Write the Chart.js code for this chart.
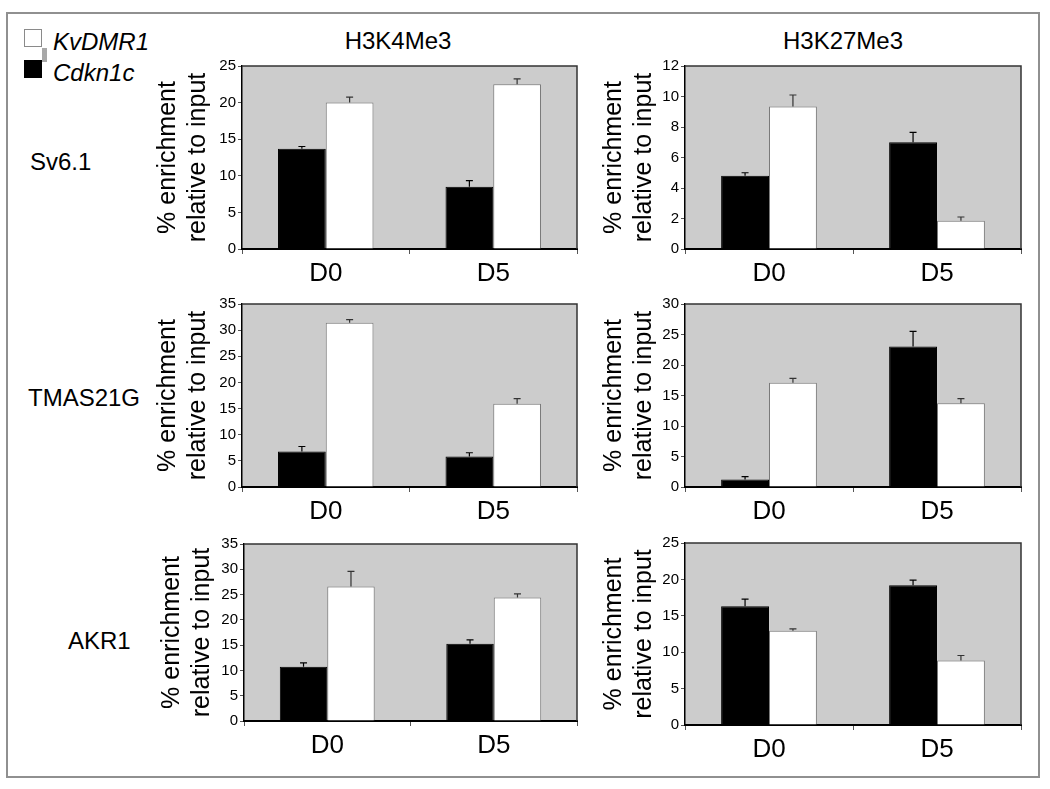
<!DOCTYPE html>
<html>
<head>
<meta charset="utf-8">
<script src="https://cdn.jsdelivr.net/npm/chart.js@4.4.1/dist/chart.umd.min.js"></script>
<style>
  body { margin: 0; background: #fff; font-family: "Liberation Sans", Arial, sans-serif; }
  #wrap { position: relative; width: 1050px; height: 789px; overflow: hidden; }
  #frame { position: absolute; left: 6px; top: 12px; width: 1034px; height: 766px; box-sizing: border-box; border: 2px solid #909090; }
  .lbl { position: absolute; font-size: 24px; line-height: 24px; color: #000; white-space: nowrap; }
  .hdr { transform: translateX(-50%); }
  .it { font-style: italic; }
  canvas { position: absolute; }
  .sq { position: absolute; box-sizing: border-box; }
</style>
</head>
<body>
<div id="wrap">
  <div id="frame"></div>

  <div class="sq" style="left:24px;top:29px;width:18px;height:18px;background:#fff;border:1px solid #8a8a8a;"></div>
  <div class="sq" style="left:42px;top:48px;width:5px;height:14px;background:#a8a8a8;"></div>
  <div class="sq" style="left:24px;top:60px;width:18px;height:18px;background:#000;"></div>
  <div class="lbl it" style="left:53px;top:30px;">KvDMR1</div>
  <div class="lbl it" style="left:53px;top:61px;">Cdkn1c</div>

  <div class="lbl hdr" style="left:398px;top:29px;">H3K4Me3</div>
  <div class="lbl hdr" style="left:843px;top:29px;">H3K27Me3</div>

  <div class="lbl" style="left:30px;top:150px;">Sv6.1</div>
  <div class="lbl" style="left:28px;top:386px;">TMAS21G</div>
  <div class="lbl" style="left:68px;top:629px;">AKR1</div>
</div>

<script>
const days = ['D0', 'D5'];

// Sv6.1
const sv_k4_cdkn = [13.7, 8.5];
const sv_k4_cdkn_err = [0.3, 0.85];
const sv_k4_kv = [20.0, 22.5];
const sv_k4_kv_err = [0.75, 0.75];

const sv_k27_cdkn = [4.8, 7.0];
const sv_k27_cdkn_err = [0.2, 0.65];
const sv_k27_kv = [9.35, 1.85];
const sv_k27_kv_err = [0.75, 0.25];

// TMAS21G
const tm_k4_cdkn = [6.8, 5.85];
const tm_k4_cdkn_err = [0.95, 0.7];
const tm_k4_kv = [31.4, 15.9];
const tm_k4_kv_err = [0.6, 1.0];

const tm_k27_cdkn = [1.25, 23.05];
const tm_k27_cdkn_err = [0.45, 2.45];
const tm_k27_kv = [17.1, 13.75];
const tm_k27_kv_err = [0.7, 0.75];

// AKR1
const akr_k4_cdkn = [10.75, 15.3];
const akr_k4_cdkn_err = [0.75, 0.75];
const akr_k4_kv = [26.6, 24.4];
const akr_k4_kv_err = [3.0, 0.75];

const akr_k27_cdkn = [16.3, 19.2];
const akr_k27_cdkn_err = [1.0, 0.7];
const akr_k27_kv = [12.95, 8.85];
const akr_k27_kv_err = [0.25, 0.7];

// y axis ranges per panel
const yMaxes = [25, 12, 35, 30, 35, 25];
const ySteps = [5, 2, 5, 5, 5, 5];

const FONT = '"Liberation Sans", Arial, sans-serif';
const AXIS_W = 97, PAD_T = 12, PAD_R = 6, AXIS_H = 46;

const plotBg = {
  id: 'plotBg',
  beforeDraw(chart) {
    const {ctx, chartArea: a} = chart;
    ctx.save();
    ctx.fillStyle = '#cccccc';
    ctx.fillRect(a.left, a.top, a.right - a.left, a.bottom - a.top);
    ctx.restore();
  },
  beforeDatasetsDraw(chart) {
    const {ctx, chartArea: a} = chart;
    ctx.save();
    ctx.strokeStyle = '#333';
    ctx.lineWidth = 1.5;
    ctx.beginPath();
    ctx.moveTo(a.left, a.top);
    ctx.lineTo(a.right, a.top);
    ctx.lineTo(a.right, a.bottom);
    ctx.stroke();
    ctx.restore();
  }
};

// upward-only error bars with a small cap
const errBars = {
  id: 'errBars',
  afterDatasetsDraw(chart) {
    const {ctx} = chart;
    const y = chart.scales.y;
    chart.data.datasets.forEach((ds, i) => {
      const meta = chart.getDatasetMeta(i);
      meta.data.forEach((bar, j) => {
        const top = y.getPixelForValue(ds.data[j] + ds.errors[j]);
        ctx.save();
        ctx.strokeStyle = ds.errColor;
        ctx.lineWidth = 1.2;
        ctx.beginPath();
        ctx.moveTo(bar.x, bar.y);
        ctx.lineTo(bar.x, top);
        ctx.moveTo(bar.x - 3.5, top);
        ctx.lineTo(bar.x + 3.5, top);
        ctx.stroke();
        ctx.restore();
      });
    });
  }
};

function makePanel(idx, black, blackErr, white, whiteErr, left, top, w, h, titlePad) {
  const cv = document.createElement('canvas');
  cv.width = AXIS_W + w + PAD_R;
  cv.height = PAD_T + h + AXIS_H;
  cv.style.left = (left - AXIS_W) + 'px';
  cv.style.top = (top - PAD_T) + 'px';
  document.getElementById('wrap').appendChild(cv);

  new Chart(cv, {
    type: 'bar',
    data: {
      labels: days,
      datasets: [
        { label: 'Cdkn1c', data: black, errors: blackErr, errColor: '#000',
          backgroundColor: '#000', borderColor: '#000', borderWidth: 1,
          barPercentage: 1, categoryPercentage: 0.57 },
        { label: 'KvDMR1', data: white, errors: whiteErr, errColor: '#333',
          backgroundColor: '#fff', borderColor: '#7a7a7a', borderWidth: 1,
          barPercentage: 1, categoryPercentage: 0.57 }
      ]
    },
    options: {
      responsive: false,
      animation: false,
      events: [],
      layout: { padding: { top: PAD_T, right: PAD_R, left: 0, bottom: 0 } },
      plugins: { legend: { display: false }, tooltip: { enabled: false } },
      scales: {
        x: {
          grid: { drawOnChartArea: false, drawTicks: true, tickLength: 5, color: '#555', offset: true },
          border: { color: '#000', width: 2 },
          ticks: { color: '#000', padding: 4, font: { family: FONT, size: 26 } },
          afterFit(s) { s.height = AXIS_H; }
        },
        y: {
          min: 0,
          max: yMaxes[idx],
          ticks: { stepSize: ySteps[idx], color: '#000', padding: 2, font: { family: FONT, size: 15 } },
          grid: { drawOnChartArea: false, drawTicks: true, tickLength: 4, color: '#555' },
          border: { color: '#000', width: 1.5 },
          title: {
            display: true,
            text: ['% enrichment', 'relative to input'],
            color: '#000',
            font: { family: FONT, size: 25, lineHeight: 1.2 },
            padding: { top: titlePad, bottom: 0 }
          },
          afterFit(s) { s.width = AXIS_W; }
        }
      }
    },
    plugins: [plotBg, errBars]
  });
}

makePanel(0, sv_k4_cdkn, sv_k4_cdkn_err, sv_k4_kv, sv_k4_kv_err, 242, 66, 335, 183, 8);
makePanel(1, sv_k27_cdkn, sv_k27_cdkn_err, sv_k27_kv, sv_k27_kv_err, 685, 66, 336, 183, 11);
makePanel(2, tm_k4_cdkn, tm_k4_cdkn_err, tm_k4_kv, tm_k4_kv_err, 242, 304, 335, 183, 8);
makePanel(3, tm_k27_cdkn, tm_k27_cdkn_err, tm_k27_kv, tm_k27_kv_err, 685, 304, 336, 183, 11);
makePanel(4, akr_k4_cdkn, akr_k4_cdkn_err, akr_k4_kv, akr_k4_kv_err, 244, 544, 333, 177, 10);
makePanel(5, akr_k27_cdkn, akr_k27_cdkn_err, akr_k27_kv, akr_k27_kv_err, 685, 543, 336, 182, 11);
</script>
</body>
</html>
